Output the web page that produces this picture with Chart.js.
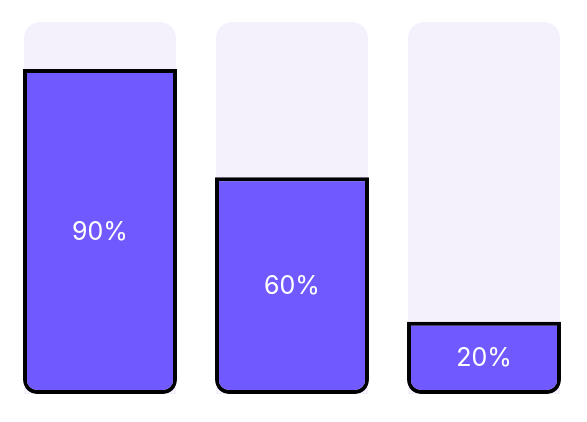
<!DOCTYPE html>
<html>
<head>
<meta charset="utf-8">
<script src="https://cdn.jsdelivr.net/npm/chart.js@4"></script>
<style>
html,body{margin:0;padding:0;background:#fff;}
#wrap{width:587px;height:422px;}
</style>
</head>
<body>
<div id="wrap"><canvas id="c" width="587" height="422"></canvas></div>
<script>
const categories = ["A", "B", "C"];
const values = [90, 60, 20];
const trackValues = [103, 103, 103];
const valueLabels = ["90%", "60%", "20%"];

const labelPlugin = {
  id: 'centerLabels',
  afterDatasetsDraw(chart) {
    const meta = chart.getDatasetMeta(1);
    const ctx = chart.ctx;
    ctx.save();
    ctx.fillStyle = '#ffffff';
    ctx.font = '400 25px Inter, "Noto Sans", sans-serif';
    ctx.textAlign = 'center';
    ctx.textBaseline = 'middle';
    meta.data.forEach((bar, i) => {
      const p = bar.getProps(['x', 'y', 'base'], true);
      ctx.fillText(valueLabels[i], p.x, (p.y + p.base) / 2 + 1);
    });
    ctx.restore();
  }
};

new Chart(document.getElementById('c'), {
  type: 'bar',
  data: {
    labels: categories,
    datasets: [
      {
        data: trackValues,
        backgroundColor: '#F4F1FD',
        borderWidth: 0,
        borderRadius: {topLeft: 16, topRight: 16, bottomLeft: 0, bottomRight: 0},
        borderSkipped: false,
        grouped: false,
        order: 2,
        barPercentage: 0.792,
        categoryPercentage: 1
      },
      {
        data: values,
        backgroundColor: '#7059FF',
        borderColor: '#000000',
        borderWidth: 4,
        borderRadius: {topLeft: 0, topRight: 0, bottomLeft: 14, bottomRight: 14},
        borderSkipped: false,
        grouped: false,
        order: 1,
        barPercentage: 0.802,
        categoryPercentage: 1
      }
    ]
  },
  options: {
    responsive: false,
    animation: false,
    layout: {padding: {left: 4, right: 7, top: 22, bottom: 28}},
    plugins: {legend: {display: false}, tooltip: {enabled: false}},
    scales: {
      x: {display: false},
      y: {display: false, min: 0, max: 103}
    }
  },
  plugins: [labelPlugin]
});
</script>
</body>
</html>
